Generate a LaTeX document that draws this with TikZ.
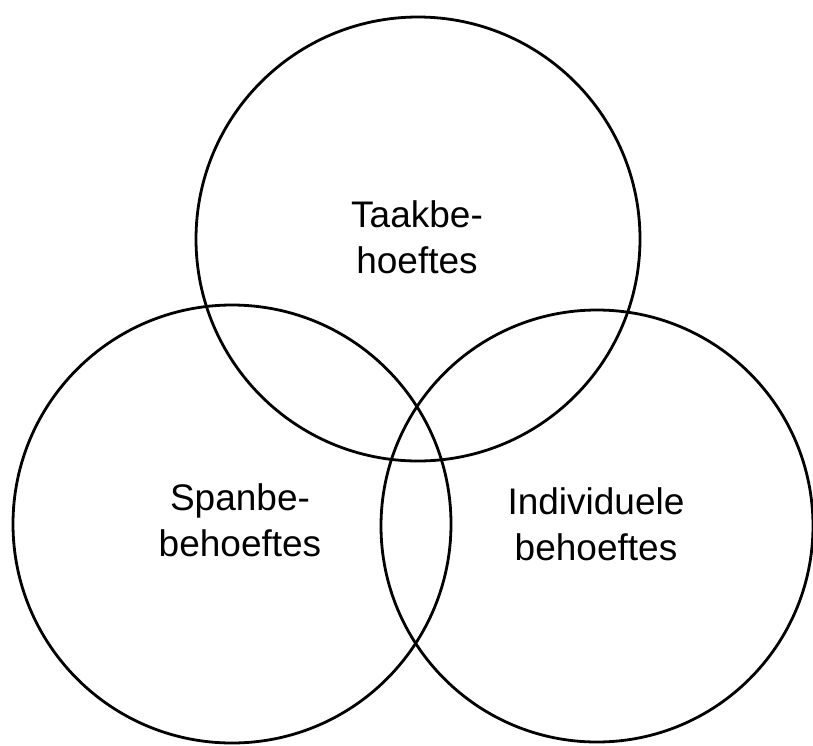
\documentclass[tikz,border=0pt]{standalone}
\usepackage{fontspec}
\setmainfont{Liberation Sans}
\usepackage{tikz}
\tikzset{
  need/.style={line width=2.8pt, color=black},
  label/.style={align=center, font=\fontsize{37}{46}\selectfont, inner sep=0pt}
}

\begin{document}
\begin{tikzpicture}[x=1pt, y=-1pt]
  \useasboundingbox (0, 0) rectangle (813, 745);
  \draw[need] (418, 239) circle (222pt); 
  \draw[need] (232, 524) circle (219pt); 
  \draw[need] (597, 526) circle (216pt); 
  \node[label] (taak) at (417, 237) {Taakbe-\\hoeftes};
  \node[label] (span) at (240, 520) {Spanbe-\\behoeftes};
  \node[label] (indiv) at (596, 524) {Individuele\\behoeftes};
\end{tikzpicture}
\end{document}
